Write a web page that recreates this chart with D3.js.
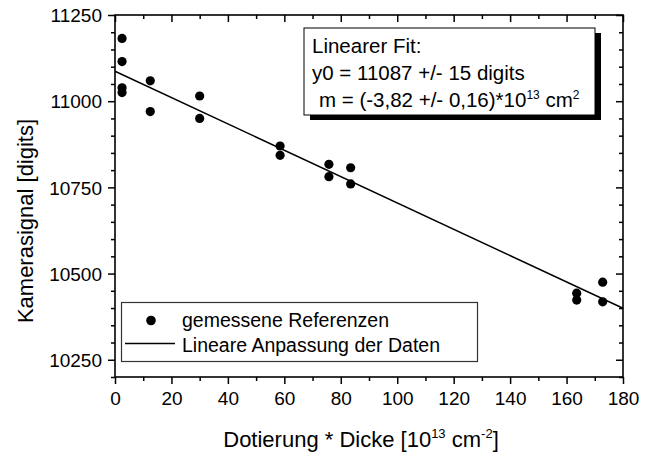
<!DOCTYPE html>
<html>
<head>
<meta charset="utf-8">
<script src="https://cdn.jsdelivr.net/npm/d3@7"></script>
<style>
  html, body { margin: 0; padding: 0; background: #fff; }
  svg { display: block; font-family: "Liberation Sans", Arial, sans-serif; }
</style>
</head>
<body>
<svg id="chart" width="648" height="455"></svg>
<script>
// Measured reference samples: doping * thickness vs. camera signal
const thickness = [2.5, 2.5, 2.5, 2.5, 12.5, 12.5, 30, 30, 58.5, 58.5, 75.8, 75.8, 83.5, 83.5, 163.6, 163.6, 172.8, 172.8];
const signal    = [11182, 11115, 11039, 11025, 11059, 10970, 11015, 10950, 10870, 10843, 10817, 10781, 10807, 10760, 10443, 10423, 10475, 10418];

// Linear fit parameters
const fitIntercept = 11087;
const fitSlope = -3.82;
const fitRange = [0, 180];

const xTicks = [0, 20, 40, 60, 80, 100, 120, 140, 160, 180];
const yTicks = [10250, 10500, 10750, 11000, 11250];
const xMinor = d3.range(0, 181, 10);
const yMinor = d3.range(10200, 11251, 50);

const svg = d3.select("#chart");
const plot = { left: 115, right: 623, top: 15, bottom: 377 };

const x = d3.scaleLinear().domain([0, 180]).range([plot.left, plot.right]);
const y = d3.scaleLinear().domain([10200, 11250]).range([plot.bottom, plot.top]);

const fontTick = 19;

// draws an axis with major + minor ticks
function drawAxis(gen, scale, ticks, minor, pos, majorLen, minorLen, labels) {
  const gMinor = svg.append("g").attr("transform", pos)
    .call(gen(scale).tickValues(minor.filter(v => !ticks.includes(v))).tickSize(minorLen).tickFormat(""));
  gMinor.select(".domain").remove();
  const g = svg.append("g").attr("transform", pos)
    .call(gen(scale).tickValues(ticks).tickSize(majorLen).tickSizeOuter(0)
      .tickFormat(labels ? d3.format("d") : ""));
  g.select(".domain").remove();
  svg.selectAll("g .tick line").attr("stroke", "#000").attr("stroke-width", 1.5);
  return g;
}

// bottom axis (ticks outward, labelled)
const gx = drawAxis(d3.axisBottom, x, xTicks, xMinor, `translate(0,${plot.bottom})`, 7, 4, true);
gx.selectAll("text").attr("font-size", fontTick).attr("fill", "#000").attr("dy", null).attr("y", 28);
// left axis (ticks outward, labelled)
const gy = drawAxis(d3.axisLeft, y, yTicks, yMinor, `translate(${plot.left},0)`, 7, 4, true);
gy.selectAll("text").attr("font-size", fontTick).attr("fill", "#000").attr("x", -13).attr("dy", "0.35em");
// top and right axes (ticks inward)
drawAxis(d3.axisTop, x, xTicks, xMinor, `translate(0,${plot.top})`, -7, -4, false);
drawAxis(d3.axisRight, y, yTicks, yMinor, `translate(${plot.right},0)`, -7, -4, false);

// frame
svg.append("rect")
  .attr("x", plot.left).attr("y", plot.top)
  .attr("width", plot.right - plot.left).attr("height", plot.bottom - plot.top)
  .attr("fill", "none").attr("stroke", "#000").attr("stroke-width", 1.6);

// fit line
svg.append("line")
  .attr("x1", x(fitRange[0])).attr("y1", y(fitIntercept + fitSlope * fitRange[0]))
  .attr("x2", x(fitRange[1])).attr("y2", y(fitIntercept + fitSlope * fitRange[1]))
  .attr("stroke", "#000").attr("stroke-width", 1.5);

// data points
svg.append("g").selectAll("circle")
  .data(thickness.map((t, i) => [t, signal[i]]))
  .join("circle")
  .attr("cx", d => x(d[0])).attr("cy", d => y(d[1]))
  .attr("r", 4.6).attr("fill", "#000");

// fit result box with drop shadow
const bx = 304, by = 28, bw = 291, bh = 87;
svg.append("rect").attr("x", bx + 6).attr("y", by + 5).attr("width", bw).attr("height", bh).attr("fill", "#000");
svg.append("rect").attr("x", bx).attr("y", by).attr("width", bw).attr("height", bh)
  .attr("fill", "#fff").attr("stroke", "#000").attr("stroke-width", 1);

const fontBox = 20.5;
svg.append("text").attr("x", 312).attr("y", 53).attr("font-size", fontBox).text("Linearer Fit:");
svg.append("text").attr("x", 312).attr("y", 80).attr("font-size", fontBox).text("y0 = 11087 +/- 15 digits");
const mt = svg.append("text").attr("x", 319).attr("y", 107).attr("font-size", fontBox);
mt.append("tspan").text("m = (-3,82 +/- 0,16)*10");
mt.append("tspan").attr("font-size", 12).attr("dy", -8).text("13");
mt.append("tspan").attr("dy", 8).text(" cm");
mt.append("tspan").attr("font-size", 12).attr("dy", -8).text("2");

// legend
svg.append("rect").attr("x", 121.5).attr("y", 302.5).attr("width", 356).attr("height", 59)
  .attr("fill", "#fff").attr("stroke", "#333").attr("stroke-width", 1.2);
svg.append("circle").attr("cx", 151).attr("cy", 320.5).attr("r", 4.8).attr("fill", "#000");
svg.append("line").attr("x1", 125).attr("x2", 175).attr("y1", 343.5).attr("y2", 343.5)
  .attr("stroke", "#000").attr("stroke-width", 1.5);
const fontLeg = 19.5;
svg.append("text").attr("x", 182).attr("y", 327).attr("font-size", fontLeg).text("gemessene Referenzen");
svg.append("text").attr("x", 182).attr("y", 352).attr("font-size", fontLeg).text("Lineare Anpassung der Daten");

// axis titles
const xt = svg.append("text").attr("x", 361).attr("y", 447).attr("font-size", 22).attr("text-anchor", "middle");
xt.append("tspan").text("Dotierung * Dicke [10");
xt.append("tspan").attr("font-size", 13).attr("dy", -9).text("13");
xt.append("tspan").attr("dy", 9).text(" cm");
xt.append("tspan").attr("font-size", 13).attr("dy", -9).text("-2");
xt.append("tspan").attr("dy", 9).text("]");

svg.append("text")
  .attr("transform", "translate(33,221) rotate(-90)")
  .attr("text-anchor", "middle").attr("font-size", 22)
  .text("Kamerasignal [digits]");
</script>
</body>
</html>
